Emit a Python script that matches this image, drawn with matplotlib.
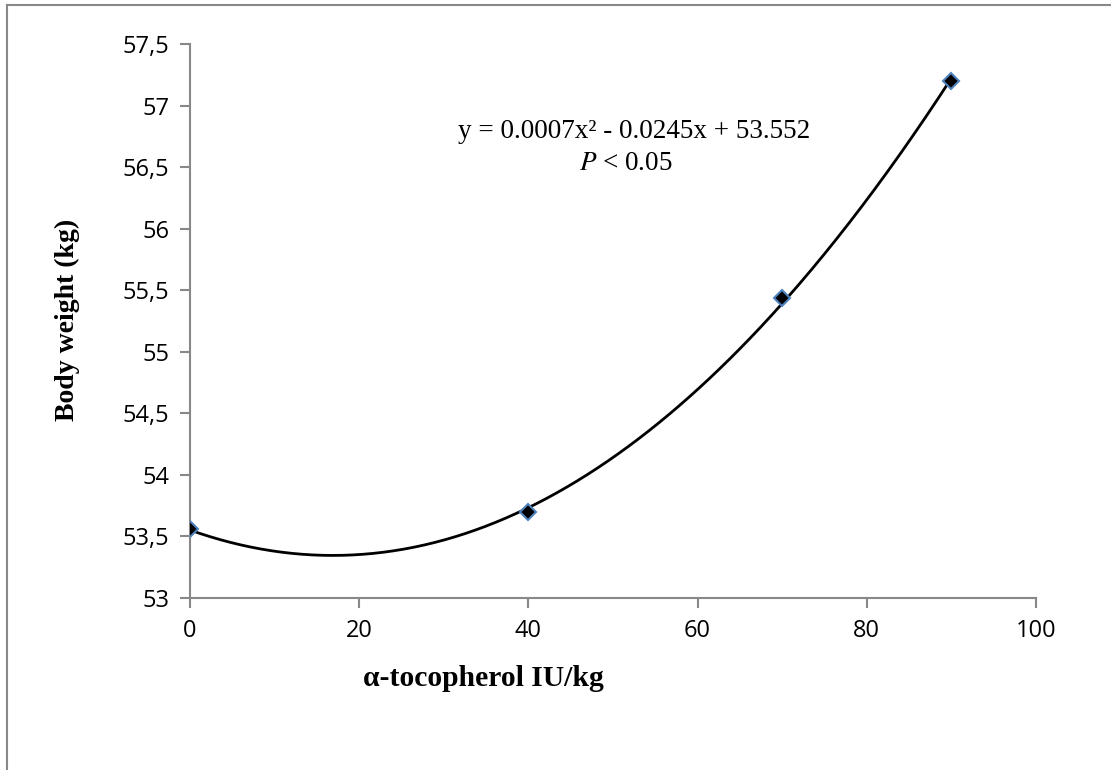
import numpy as np
import matplotlib
matplotlib.use('Agg')
import matplotlib.pyplot as plt
from matplotlib.ticker import FuncFormatter
from matplotlib.lines import Line2D

# data
dose = [0, 40, 70, 90]
weight = [53.56, 53.70, 55.44, 57.20]
x_ticks = [0, 20, 40, 60, 80, 100]
y_ticks = [53, 53.5, 54, 54.5, 55, 55.5, 56, 56.5, 57, 57.5]

fig = plt.figure(figsize=(11.11, 7.70), dpi=100)
ax = fig.add_axes([190/1111, 1-598/770, (1036-190)/1111, (598-44)/770])

## outer chart frame (only top and left edges visible)
grey = '#888888'
fig.add_artist(Line2D([7/1111, 7/1111], [0, 1-5/770], transform=fig.transFigure, color=grey, lw=1.5))
fig.add_artist(Line2D([7/1111, 1], [1-5/770, 1-5/770], transform=fig.transFigure, color=grey, lw=1.5))

## polynomial trend line
coef = np.polyfit(dose, weight, 2)
xs = np.linspace(0, 90, 300)
ax.plot(xs, np.polyval(coef, xs), color='black', lw=2)
ax.plot(dose, weight, linestyle='none', marker='D', markersize=8,
        markerfacecolor='black', markeredgecolor='#4f81bd', markeredgewidth=1.5, zorder=3)

ax.set_xlim(0, 100)
ax.set_ylim(53, 57.5)
ax.set_xticks(x_ticks)
ax.set_yticks(y_ticks)
ax.yaxis.set_major_formatter(FuncFormatter(lambda v, p: ('%g' % v).replace('.', ',')))

for s in ['top', 'right']:
    ax.spines[s].set_visible(False)
for s in ['left', 'bottom']:
    ax.spines[s].set_color(grey)
    ax.spines[s].set_linewidth(1.5)
ax.tick_params(colors=grey, width=1.5, length=7, labelcolor='black', labelsize=17, pad=8)
for lab in ax.get_xticklabels() + ax.get_yticklabels():
    lab.set_family('Open Sans')

## trend line equation
fig.text(634/1111, 1-132/770, 'y = 0.0007x² - 0.0245x + 53.552', ha='center', va='center',
         family='Liberation Serif', fontsize=19.5)
fig.text(626/1111, 1-163/770, r'$\it{P}$ < 0.05', ha='center', va='center',
         family='Liberation Serif', fontsize=19.5, math_fontfamily='stix')

fig.text(67/1111, 1-320/770, 'Body weight (kg)', rotation=90, ha='center', va='center',
         family='Liberation Serif', fontweight='bold', fontsize=20)
fig.text(363/1111, 1-679/770, 'α-tocopherol IU/kg', ha='left', va='center',
         family='Liberation Serif', fontweight='bold', fontsize=21.3)

plt.savefig('out.png', dpi=100)
